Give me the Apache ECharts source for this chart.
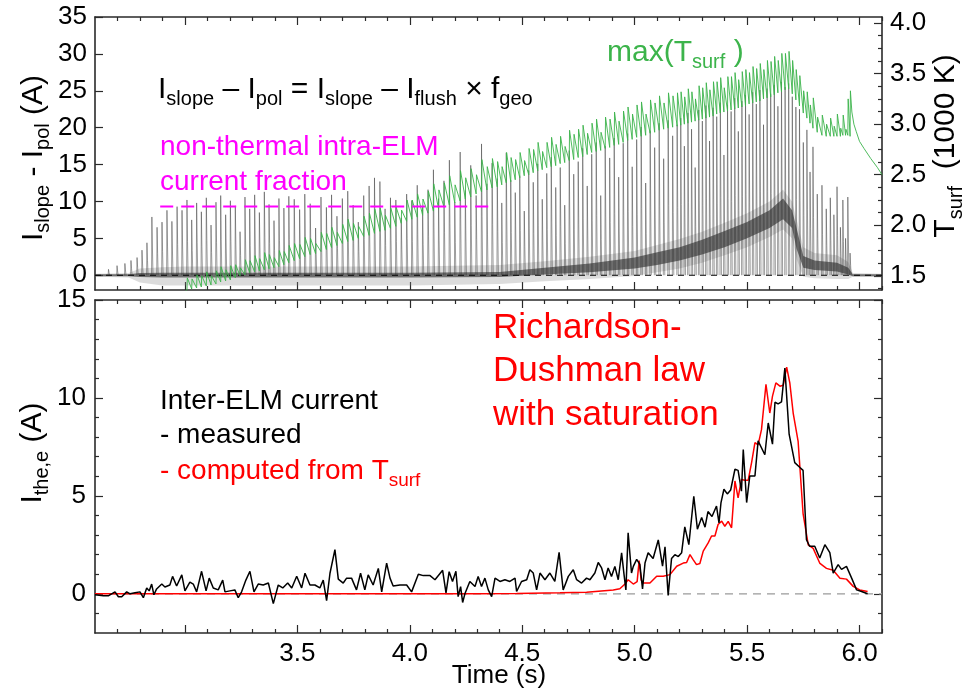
<!DOCTYPE html>
<html><head><meta charset="utf-8">
<script src="https://cdn.jsdelivr.net/npm/echarts@6/dist/echarts.min.js"></script>
<style>html,body{margin:0;padding:0;background:#fff}#c{width:975px;height:692px}</style>
</head><body><div id="c"></div>
<script>
// ---------------- data ----------------
// Top panel: ELM events (time in s, peak of I_slope - I_pol in A)
const elmTimes = [2.660,2.698,2.733,2.760,2.787,2.809,2.831,2.853,2.876,2.898,2.920,2.942,2.965,2.987,
 3.009,3.030,3.052,3.073,3.095,3.116,3.138,3.159,3.181,3.202,3.224,3.245,3.267,3.288,3.310,3.331,3.353,3.374,3.396,3.418,3.440,3.462,
 3.486,3.510,3.533,3.557,3.581,3.605,3.629,3.652,3.676,3.700,3.724,3.748,3.771,3.795,3.819,3.843,3.867,3.890,3.914,3.938,3.962,3.986,4.009,4.033,4.057,4.081,4.105,4.128,4.152,4.176,4.200,4.224,4.247,4.271,4.295,4.319,4.343,4.366,
 4.389,4.409,4.429,4.449,4.469,4.489,4.509,4.529,4.549,4.569,4.589,4.609,4.629,4.649,4.669,4.689,4.709,4.729,4.749,4.769,4.789,4.809,4.829,4.849,4.869,4.889,4.909,4.929,4.949,4.969,4.989,5.009,5.029,5.049,5.069,5.089,5.109,5.129,5.149,5.169,5.189,
 5.205,5.221,5.237,5.253,5.269,5.285,5.301,5.317,5.333,5.349,5.365,5.381,5.397,5.413,5.429,5.445,5.461,5.477,5.493,5.509,5.525,5.541,5.557,5.573,5.589,5.605,5.621,5.637,5.653,5.669,5.685,5.701,5.717,
 5.733,5.750,5.766,5.780,5.793,5.812,5.833,5.852,5.870,5.886,5.900,5.915,5.926,5.938,5.948,5.958];
const elmPeaks = [0.8,1.3,1.6,2.0,2.4,3.4,4.4,7.9,6.5,7.2,8.8,7.3,9.3,8.8,
 10.2,7.5,9.8,8.6,10.5,6.8,9.9,10.8,8.2,10.1,9.4,5.9,10.6,9.0,10.9,8.5,11.3,9.6,7.4,10.4,9.1,10.7,
 10.3,8.9,11.0,9.7,6.4,10.6,9.2,10.9,8.0,10.4,11.4,9.5,7.2,10.8,12.1,13.2,12.7,9.0,10.5,10.2,7.8,11.0,10.1,12.2,9.3,11.6,14.3,10.4,12.8,15.6,9.9,16.7,11.5,14.9,10.8,17.8,12.4,15.2,
 13.1,9.8,16.6,12.9,11.2,13.5,8.7,14.2,12.6,15.1,10.3,13.8,16.0,11.9,14.6,9.5,16.9,13.7,15.4,17.2,12.1,16.4,18.0,10.8,17.5,15.9,18.6,13.3,17.9,19.2,14.7,18.4,20.1,12.5,19.6,17.3,20.6,15.8,21.0,18.9,20.4,
 21.3,17.5,22.0,19.8,14.6,22.4,20.9,23.0,18.2,22.7,21.5,23.4,16.3,23.1,22.2,24.0,19.5,23.6,24.4,21.8,24.8,23.2,25.1,20.4,25.3,24.6,25.8,22.9,26.2,25.5,26.0,24.2,22.8,
 22.5,18.0,19.7,14.0,17.4,11.0,12.2,9.0,10.5,8.2,12.0,6.5,10.2,5.0,10.6,3.0];
// max(T_surf) in 1000 K : value just before each ELM (trough) and its jump, for the ELMs from 3.0 s on
const tsurfTrough = [1.36,1.37,1.38,1.39,1.40,1.41,1.42,1.44,1.45,1.46,1.48,1.50,1.51,1.53,1.54,1.55,1.56,1.57,1.58,1.59,1.61,1.63,
 1.65,1.67,1.69,1.71,1.72,1.74,1.76,1.78,1.80,1.82,1.84,1.85,1.87,1.89,1.90,1.92,1.94,1.95,1.97,1.99,2.02,2.04,2.06,2.08,2.10,2.12,2.14,2.16,2.18,2.20,2.22,2.24,2.26,2.28,2.31,2.33,2.35,2.37,
 2.38,2.40,2.42,2.43,2.45,2.47,2.49,2.50,2.52,2.54,2.55,2.57,2.58,2.59,2.61,2.62,2.64,2.65,2.67,2.68,2.70,2.72,2.73,2.74,2.76,2.77,2.79,2.80,2.82,2.84,2.85,2.87,2.88,2.89,2.91,2.92,2.94,2.95,2.96,2.97,2.98,
 2.99,3.00,3.01,3.02,3.03,3.04,3.05,3.06,3.07,3.08,3.10,3.11,3.12,3.13,3.14,3.15,3.16,3.17,3.18,3.20,3.21,3.22,3.23,3.25,3.26,3.27,3.29,3.31,3.32,3.34,3.35,3.30,3.24,
 3.18,3.11,3.06,3.01,2.96,2.92,2.89,2.88,2.88,2.88,2.88,2.88,2.89,2.89,2.89,2.88];
const tsurfRise = [0.12,0.10,0.13,0.11,0.14,0.09,0.13,0.15,0.11,0.14,0.13,0.08,0.15,0.12,0.16,0.12,0.17,0.14,0.10,0.16,0.13,0.17,
 0.17,0.14,0.19,0.16,0.10,0.19,0.16,0.20,0.13,0.19,0.22,0.17,0.12,0.20,0.22,0.24,0.23,0.15,0.20,0.19,0.13,0.21,0.19,0.23,0.16,0.22,0.27,0.19,0.24,0.29,0.18,0.30,0.21,0.28,0.19,0.32,0.23,0.29,
 0.25,0.18,0.30,0.24,0.20,0.25,0.15,0.26,0.23,0.28,0.18,0.25,0.29,0.21,0.27,0.16,0.30,0.25,0.28,0.31,0.21,0.29,0.32,0.18,0.31,0.28,0.33,0.23,0.31,0.33,0.25,0.32,0.34,0.21,0.33,0.29,0.34,0.26,0.35,0.31,0.33,
 0.33,0.27,0.34,0.30,0.22,0.34,0.31,0.35,0.27,0.34,0.32,0.35,0.24,0.34,0.33,0.36,0.28,0.35,0.36,0.31,0.36,0.33,0.37,0.29,0.37,0.35,0.38,0.32,0.38,0.36,0.37,0.33,0.30,
 0.30,0.22,0.26,0.18,0.30,0.15,0.20,0.12,0.18,0.10,0.22,0.08,0.20,0.06,0.36,0.45];
const tsurfHeadT = [2.990], tsurfHeadV = [1.33];
const tsurfTailT = [5.966,5.975,5.985,6.000,6.020,6.050,6.080,6.100];
const tsurfTailV = [3.12,3.00,2.93,2.83,2.76,2.66,2.57,2.50];
// inter-ELM signal envelope of the top trace (A)
const bandT    = [2.60,2.75,2.80,2.90,3.00,3.50,4.00,4.40,4.60,4.80,5.00,5.10,5.20,5.30,5.40,5.50,5.60,5.66,5.70,5.72,5.75,5.80,5.90,5.95,5.97,6.10];
const coreLow  = [-0.15,-0.15,-0.25,-0.3,-0.3,-0.3,-0.3,-0.25,0.1,0.4,0.9,1.4,2.0,2.8,3.8,5.0,6.4,7.6,6.4,3.6,1.0,0.7,0.5,0.1,-0.15,-0.15];
const coreHigh = [0.15,0.15,0.3,0.35,0.35,0.35,0.35,0.45,1.0,1.6,2.4,3.1,3.8,4.8,6.0,7.2,8.8,10.4,8.8,6.4,2.6,2.0,1.7,1.0,0.15,0.15];
const fuzzLow  = [-0.2,-0.3,-1.0,-1.4,-1.4,-1.4,-1.4,-1.2,-0.8,-0.5,-0.1,0.4,0.9,1.7,2.7,3.8,5.2,6.2,5.0,2.2,-0.2,-0.4,-0.5,-0.5,-0.2,-0.2];
const fuzzHigh = [0.2,0.3,0.9,1.1,1.2,1.2,1.2,1.4,1.9,2.5,3.3,4.1,4.9,5.9,7.1,8.4,10.0,11.6,10.0,7.6,3.8,3.0,2.7,1.8,0.3,0.2];
// non-thermal intra-ELM current fraction level
const fractionLevel = 9.3, fractionStart = 2.89, fractionEnd = 4.37;
// Bottom panel: inter-ELM current, measured (black) and computed from T_surf (red)
const measT = [2.600,2.637,2.659,2.667,2.689,2.704,2.719,2.741,2.756,2.778,2.800,2.815,2.830,2.841,2.852,2.862,2.874,2.897,2.911,2.933,2.945,2.963,2.986,3.000,3.022,3.037,3.052,3.074,3.094,3.108,3.126,3.148,3.168,3.178,3.200,3.222,3.237,3.252,3.271,3.289,3.307,3.326,3.348,3.371,3.393,3.415,3.435,3.457,3.475,3.497,3.519,3.534,3.556,3.578,3.600,3.615,3.630,3.645,3.667,3.682,3.704,3.719,3.741,3.763,3.781,3.800,3.815,3.837,3.860,3.875,3.897,3.912,3.926,3.956,3.986,4.008,4.038,4.060,4.090,4.112,4.146,4.161,4.175,4.190,4.205,4.215,4.226,4.235,4.245,4.267,4.290,4.304,4.319,4.334,4.349,4.364,4.379,4.401,4.423,4.445,4.468,4.475,4.497,4.520,4.534,4.549,4.564,4.579,4.601,4.623,4.645,4.664,4.682,4.705,4.727,4.742,4.764,4.786,4.801,4.823,4.838,4.853,4.868,4.882,4.897,4.912,4.927,4.942,4.952,4.961,4.971,4.986,4.994,5.009,5.023,5.035,5.046,5.060,5.082,5.105,5.124,5.135,5.149,5.164,5.179,5.194,5.209,5.223,5.241,5.263,5.279,5.298,5.313,5.326,5.344,5.364,5.375,5.384,5.397,5.412,5.427,5.446,5.460,5.475,5.483,5.498,5.512,5.535,5.549,5.579,5.594,5.613,5.624,5.638,5.653,5.668,5.687,5.712,5.735,5.749,5.764,5.778,5.801,5.823,5.846,5.868,5.883,5.905,5.920,5.942,5.965,5.987,6.009,6.036];
const measV = [-0.05,-0.10,-0.10,0.00,0.10,-0.15,-0.15,0.10,0.00,0.05,0.10,-0.20,0.30,0.15,0.50,-0.05,0.25,0.50,0.35,0.45,0.89,0.40,0.97,0.15,0.60,0.50,0.10,1.15,0.15,0.80,0.30,0.20,0.70,0.10,0.15,0.20,-0.20,0.10,0.70,1.15,0.10,0.50,0.45,0.55,-0.50,0.45,0.30,0.55,0.30,0.90,0.30,1.05,0.45,0.45,0.30,0.70,-0.35,1.05,2.26,0.75,0.55,0.80,0.80,0.20,1.05,0.20,0.97,0.45,1.30,0.10,1.57,0.80,0.40,0.45,0.45,0.10,1.00,0.93,0.93,0.72,1.20,0.05,1.13,0.63,1.15,-0.14,0.37,-0.44,0.00,0.63,0.37,0.89,0.37,0.80,0.20,-0.14,0.80,0.63,0.72,0.63,0.80,0.12,0.63,0.72,1.23,1.06,0.20,1.06,0.72,1.06,0.63,2.12,0.20,0.89,1.23,0.72,0.55,0.80,0.72,1.06,1.60,1.32,0.72,1.32,0.89,1.40,0.72,2.09,1.06,0.20,3.11,1.06,1.40,1.76,1.50,0.25,1.57,2.10,1.80,2.75,1.41,2.40,-0.08,1.80,2.00,1.90,2.10,3.42,2.51,4.98,3.30,3.90,3.40,4.20,3.95,4.48,3.62,4.66,5.34,5.10,5.30,6.36,6.30,5.24,7.37,4.66,6.02,6.02,7.81,7.10,8.72,7.64,9.78,9.70,9.80,11.52,8.15,6.70,6.45,6.30,2.77,2.43,2.43,1.83,2.51,2.10,1.06,1.49,1.25,1.40,0.80,0.20,0.12,0.00];
const compT = [2.600,4.300,4.475,4.668,4.786,4.905,4.934,4.957,4.971,4.994,5.011,5.020,5.029,5.038,5.068,5.098,5.127,5.157,5.187,5.216,5.231,5.246,5.260,5.275,5.290,5.305,5.327,5.342,5.357,5.371,5.387,5.401,5.416,5.431,5.446,5.460,5.475,5.490,5.505,5.520,5.535,5.549,5.564,5.584,5.601,5.613,5.628,5.646,5.661,5.676,5.690,5.705,5.727,5.749,5.772,5.794,5.824,5.853,5.883,5.913,5.942,5.972,6.001,6.036];
const compV = [0.00,0.00,0.02,0.05,0.08,0.20,0.26,0.50,0.72,0.50,0.62,1.70,0.70,0.55,0.55,0.90,0.90,0.98,1.41,1.57,1.60,2.00,1.75,1.49,1.55,2.18,2.60,2.95,2.95,3.54,3.71,3.45,3.70,3.37,5.76,4.90,5.84,5.80,5.80,6.70,7.72,7.60,8.38,10.69,9.23,10.09,10.77,10.60,10.65,11.57,10.77,9.23,7.78,4.10,2.50,2.32,1.55,1.30,1.20,0.80,0.75,0.38,0.20,0.12];
// axes
const timeRange = [2.6, 6.1];
const xMajorTicks = [3.0,3.5,4.0,4.5,5.0,5.5,6.0];
const xTickLabels = [3.5,4.0,4.5,5.0,5.5,6.0];
const topRange = [-2, 35], topTickLabels = [0,5,10,15,20,25,30,35];
const tsurfRange = [1.36, 4.06], tsurfTickLabels = [1.5,2.0,2.5,3.0,3.5,4.0];
const botRange = [-2, 15], botTickLabels = [0,5,10,15];

// ---------------- chart ----------------
const FONT = '"Liberation Sans", Arial, Helvetica, sans-serif';
const AXC = '#2a2a2a';
const xMinor = []; for (let k = 27; k <= 61; k++) if (k % 5) xMinor.push(k / 10);
const tsurfMinor = []; for (let k = 11; k <= 32; k++) if (k % 4) tsurfMinor.push(k / 8);
const botMinor = []; for (let k = -1; k <= 14; k++) if (k % 5) botMinor.push(k);

function ax(o) {
  return {
    type: 'value', gridIndex: o.grid, position: o.pos, min: o.range[0], max: o.range[1],
    splitLine: { show: false },
    axisLine: { show: !!o.line, onZero: false, lineStyle: { color: AXC, width: 1.6 } },
    axisTick: { show: true, inside: true, length: o.len, customValues: o.ticks, lineStyle: { color: AXC, width: 1.2 } },
    axisLabel: o.labels ? { show: true, customValues: o.labels, margin: o.margin, color: '#000', fontFamily: FONT, fontSize: 26,
      formatter: o.fmt || (v => String(v)) } : { show: false }
  };
}
const f1 = v => v.toFixed(1);
const xAxes = [
  ax({ grid: 0, pos: 'bottom', range: timeRange, ticks: xMajorTicks, len: 8, line: true }),
  ax({ grid: 0, pos: 'bottom', range: timeRange, ticks: xMinor, len: 4 }),
  ax({ grid: 0, pos: 'top', range: timeRange, ticks: xMajorTicks, len: 8, line: true }),
  ax({ grid: 0, pos: 'top', range: timeRange, ticks: xMinor, len: 4 }),
  ax({ grid: 1, pos: 'bottom', range: timeRange, ticks: xMajorTicks, len: 8, line: true, labels: xTickLabels, margin: 8, fmt: f1 }),
  ax({ grid: 1, pos: 'bottom', range: timeRange, ticks: xMinor, len: 4 }),
  ax({ grid: 1, pos: 'top', range: timeRange, ticks: xMajorTicks, len: 8, line: true }),
  ax({ grid: 1, pos: 'top', range: timeRange, ticks: xMinor, len: 4 })
];
const yAxes = [
  ax({ grid: 0, pos: 'left', range: topRange, ticks: topTickLabels, len: 8, line: true, labels: topTickLabels, margin: 8 }),
  ax({ grid: 0, pos: 'right', range: tsurfRange, ticks: tsurfTickLabels, len: 8, line: true, labels: tsurfTickLabels, margin: 8, fmt: f1 }),
  ax({ grid: 0, pos: 'right', range: tsurfRange, ticks: tsurfMinor, len: 4 }),
  ax({ grid: 1, pos: 'left', range: botRange, ticks: botTickLabels, len: 8, line: true, labels: botTickLabels, margin: 9 }),
  ax({ grid: 1, pos: 'left', range: botRange, ticks: botMinor, len: 4 }),
  ax({ grid: 1, pos: 'right', range: botRange, ticks: botTickLabels, len: 8, line: true }),
  ax({ grid: 1, pos: 'right', range: botRange, ticks: botMinor, len: 4 })
];

function band(lo, hi, color, opacity) {
  return {
    type: 'custom', xAxisIndex: 0, yAxisIndex: 0, clip: true, silent: true, animation: false,
    data: [[bandT[0], lo[0]]],
    renderItem: (params, api) => {
      const pts = [];
      for (let i = 0; i < bandT.length; i++) pts.push(api.coord([bandT[i], hi[i]]));
      for (let i = bandT.length - 1; i >= 0; i--) pts.push(api.coord([bandT[i], lo[i]]));
      return { type: 'polygon', shape: { points: pts }, style: { fill: color, opacity: opacity } };
    }
  };
}

// each ELM drawn as a sharp rise and a two-step fall back to zero
const spikeData = [];
elmTimes.forEach((t, i) => {
  const p = elmPeaks[i];
  spikeData.push([t - 0.0015, 0], [t, p], [t + 0.0025, p * 0.45], [t + 0.005, 0], [t + 0.005, '-']);
});
const greenData = [];
tsurfHeadT.forEach((t, i) => greenData.push([t, tsurfHeadV[i]]));
const off = elmTimes.length - tsurfTrough.length;
tsurfTrough.forEach((v, i) => {
  const t = elmTimes[off + i];
  greenData.push([t, v], [t + 0.0015, v + tsurfRise[i]]);
});
tsurfTailT.forEach((t, i) => greenData.push([t, tsurfTailV[i]]));

const series = [
  band(fuzzLow, fuzzHigh, '#8a8a8a', 0.3),
  band(coreLow, coreHigh, '#2a2a2a', 0.62),
  { type: 'line', xAxisIndex: 0, yAxisIndex: 0, data: [[timeRange[0], 0], [timeRange[1], 0]], symbol: 'none', silent: true,
    lineStyle: { color: '#000', width: 1.2, type: [6, 5] } },
  { type: 'line', xAxisIndex: 0, yAxisIndex: 0, data: spikeData, symbol: 'none', silent: true, connectNulls: false,
    lineStyle: { color: '#333', width: 0.8, opacity: 0.6 } },
  { type: 'line', xAxisIndex: 0, yAxisIndex: 1, data: greenData, symbol: 'none', silent: true,
    lineStyle: { color: '#3cb44b', width: 1, opacity: 0.9 } },
  { type: 'line', xAxisIndex: 0, yAxisIndex: 0, data: [[fractionStart, fractionLevel], [fractionEnd, fractionLevel]], symbol: 'none', silent: true,
    lineStyle: { color: '#ff00ff', width: 2, type: [13, 8] } },
  { type: 'line', xAxisIndex: 4, yAxisIndex: 3, data: [[timeRange[0], 0], [timeRange[1], 0]], symbol: 'none', silent: true,
    lineStyle: { color: '#9a9a9a', width: 1.3, type: [8, 6] } },
  { type: 'line', xAxisIndex: 4, yAxisIndex: 3, data: compT.map((t, i) => [t, compV[i]]), symbol: 'none', silent: true,
    lineStyle: { color: '#ff0000', width: 1.5 } },
  { type: 'line', xAxisIndex: 4, yAxisIndex: 3, data: measT.map((t, i) => [t, measV[i]]), symbol: 'none', silent: true,
    lineStyle: { color: '#000', width: 1.5 } }
];

function txt(x, y, text, size, color, align, rot) {
  const sub = Math.round(size * 0.68);
  return {
    type: 'text', x: x, y: y, rotation: rot || 0, silent: true, z: 100,
    style: {
      text: text, fill: color, fontFamily: FONT, fontSize: size, align: align || 'left', verticalAlign: 'middle',
      rich: {
        m: { fontFamily: FONT, fontSize: size, fill: color },
        s: { fontFamily: FONT, fontSize: sub, fill: color, padding: [20, 0, 0, 0] }
      }
    }
  };
}
const R = Math.PI / 2;
const graphics = [
  txt(158, 89.5, '{m|I}{s|slope}{m| \u2013 I}{s|pol}{m| = I}{s|slope}{m| \u2013 I}{s|flush}{m| \u00d7 f}{s|geo}', 30, '#000'),
  txt(160, 147, 'non-thermal intra-ELM', 28, '#ff00ff'),
  txt(160, 182, 'current fraction', 28, '#ff00ff'),
  txt(607, 52.5, '{m|max(T}{s|surf}{m| )}', 30, '#3cb44b'),
  txt(160, 401, 'Inter-ELM current', 28, '#000'),
  txt(160, 435, '- measured', 28, '#000'),
  txt(160, 471, '{m|- computed from T}{s|surf}', 28, '#ff0000'),
  txt(493, 328, 'Richardson-', 35, '#ff0000'),
  txt(493, 371, 'Dushman law', 35, '#ff0000'),
  txt(493, 415, 'with saturation', 35, '#ff0000'),
  txt(499, 676, 'Time (s)', 26, '#000', 'center'),
  txt(33.5, 158, '{m|I}{s|slope}{m| - I}{s|pol}{m| (A)}', 30, '#000', 'center', R),
  txt(32.5, 453, '{m|I}{s|the,e}{m| (A)}', 30, '#000', 'center', R),
  txt(946, 146, '{m|T}{s|surf}{m|  (1000 K)}', 30, '#000', 'center', R)
];

const chart = echarts.init(document.getElementById('c'), null, { renderer: 'canvas' });
chart.setOption({
  animation: false,
  backgroundColor: '#fff',
  grid: [
    { left: 95, right: 93, top: 17, height: 273, containLabel: false, outerBoundsMode: 'none' },
    { left: 95, right: 93, top: 300, height: 333, containLabel: false, outerBoundsMode: 'none' }
  ],
  xAxis: xAxes,
  yAxis: yAxes,
  series: series,
  graphic: { elements: graphics }
});
</script></body></html>
